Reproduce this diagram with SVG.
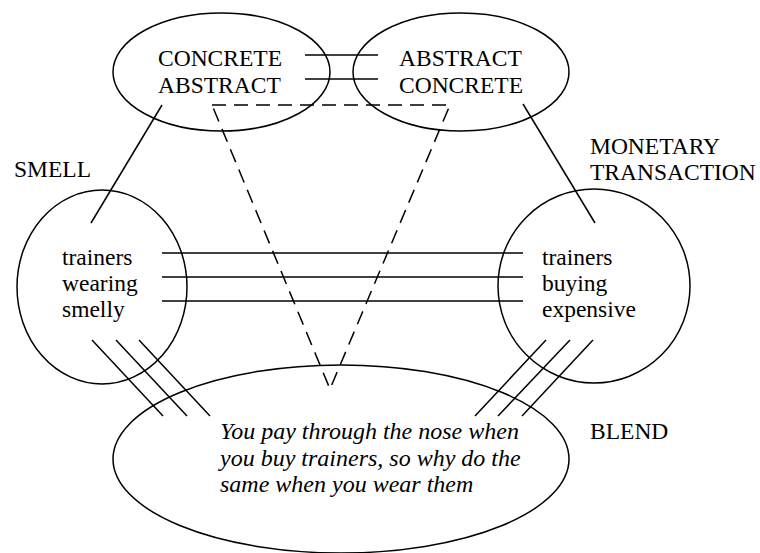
<svg xmlns="http://www.w3.org/2000/svg" width="760" height="553" viewBox="0 0 760 553">
<style>
.s{fill:none;stroke:#000;stroke-width:1.5}
.d{fill:none;stroke:#000;stroke-width:1.5;stroke-dasharray:14 8}
.t{font-family:"Liberation Serif","Times New Roman",serif;font-size:23.5px;fill:#000}
.i{font-family:"Liberation Serif","Times New Roman",serif;font-size:24px;font-style:italic;fill:#000}
</style>
<rect width="760" height="553" fill="#fff"/>
<g id="connectors">
<line class="s" x1="305" y1="55" x2="378" y2="55"/>
<line class="s" x1="305" y1="79" x2="378" y2="79"/>
<polyline class="d" points="212,105 450,105 330,389 212,105"/>
<line class="s" x1="162" y1="105" x2="91" y2="223"/>
<line class="s" x1="523" y1="104" x2="595" y2="223"/>
<line class="s" x1="162" y1="253" x2="523" y2="253"/>
<line class="s" x1="162" y1="277" x2="523" y2="277"/>
<line class="s" x1="162" y1="301" x2="523" y2="301"/>
<line class="s" x1="92" y1="340" x2="163" y2="416"/>
<line class="s" x1="116" y1="340" x2="187" y2="416"/>
<line class="s" x1="139" y1="340" x2="210" y2="416"/>
<line class="s" x1="546" y1="340" x2="475" y2="416"/>
<line class="s" x1="570" y1="340" x2="498" y2="416"/>
<line class="s" x1="593" y1="340" x2="522" y2="416"/>
</g>
<g id="generic-left">
<ellipse class="s" cx="221.5" cy="72" rx="108.5" ry="59"/>
<text class="t" x="158" y="66">CONCRETE</text>
<text class="t" x="158" y="93">ABSTRACT</text>
</g>
<g id="generic-right">
<ellipse class="s" cx="461" cy="72" rx="108" ry="59"/>
<text class="t" x="399" y="66">ABSTRACT</text>
<text class="t" x="399" y="93">CONCRETE</text>
</g>
<g id="input-smell">
<ellipse class="s" cx="102" cy="287" rx="85" ry="97"/>
<text class="t" x="14" y="177">SMELL</text>
<text class="t" x="62" y="265">trainers</text>
<text class="t" x="62" y="291">wearing</text>
<text class="t" x="62" y="317">smelly</text>
</g>
<g id="input-monetary">
<ellipse class="s" cx="594" cy="286" rx="96" ry="97"/>
<text class="t" x="590" y="154">MONETARY</text>
<text class="t" x="590" y="180">TRANSACTION</text>
<text class="t" x="542" y="265">trainers</text>
<text class="t" x="542" y="291">buying</text>
<text class="t" x="542" y="317">expensive</text>
</g>
<g id="blend">
<ellipse class="s" cx="341" cy="459" rx="228" ry="94"/>
<text class="t" x="590" y="439">BLEND</text>
<text class="i" x="220" y="439">You pay through the nose when</text>
<text class="i" x="220" y="466">you buy trainers, so why do the</text>
<text class="i" x="220" y="492">same when you wear them</text>
</g>
</svg>
